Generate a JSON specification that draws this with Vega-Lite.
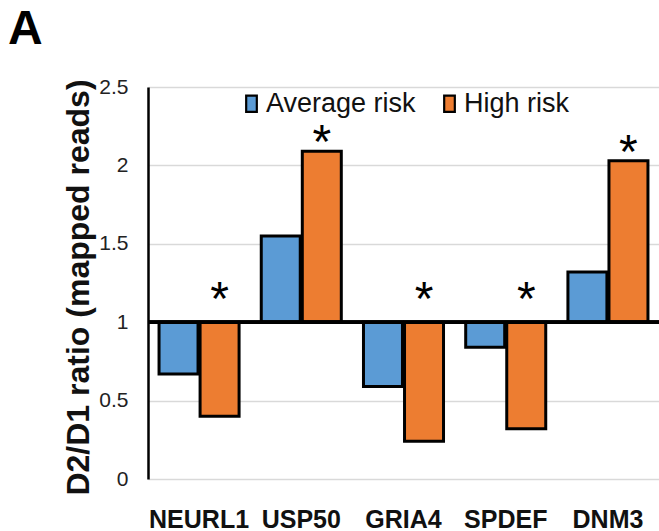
{
  "$schema": "https://vega.github.io/schema/vega-lite/v6.json",
  "width": 511,
  "height": 392,
  "autosize": {"type": "none"},
  "padding": {"left": 148, "top": 87, "right": 0, "bottom": 52},
  "background": "white",
  "title": {
    "text": "A",
    "anchor": "start",
    "frame": "group",
    "dx": -140,
    "offset": 22,
    "font": "Liberation Sans",
    "fontSize": 48,
    "fontWeight": "bold",
    "color": "black"
  },
  "config": {
    "view": {"stroke": null},
    "font": "Liberation Sans"
  },
  "data": {
    "values": [
      {"gene": "NEURL1", "group": "Average risk", "value": 0.67, "sig": ""},
      {"gene": "NEURL1", "group": "High risk", "value": 0.40, "sig": "*"},
      {"gene": "USP50", "group": "Average risk", "value": 1.55, "sig": ""},
      {"gene": "USP50", "group": "High risk", "value": 2.09, "sig": "*"},
      {"gene": "GRIA4", "group": "Average risk", "value": 0.59, "sig": ""},
      {"gene": "GRIA4", "group": "High risk", "value": 0.24, "sig": "*"},
      {"gene": "SPDEF", "group": "Average risk", "value": 0.84, "sig": ""},
      {"gene": "SPDEF", "group": "High risk", "value": 0.32, "sig": "*"},
      {"gene": "DNM3", "group": "Average risk", "value": 1.32, "sig": ""},
      {"gene": "DNM3", "group": "High risk", "value": 2.03, "sig": "*"}
    ]
  },
  "encoding": {
    "x": {
      "field": "gene",
      "type": "nominal",
      "sort": null,
      "scale": {"paddingInner": 0.217, "paddingOuter": 0.108},
      "axis": {
        "title": null,
        "labelAngle": 0,
        "labelFont": "Liberation Sans",
        "labelFontWeight": "bold",
        "labelFontSize": 25,
        "labelColor": "#111111",
        "labelPadding": 28,
        "ticks": false,
        "domain": false
      }
    },
    "xOffset": {
      "field": "group",
      "type": "nominal",
      "sort": ["Average risk", "High risk"],
      "scale": {"paddingInner": 0.05}
    }
  },
  "layer": [
    {
      "mark": {"type": "bar", "stroke": "black", "strokeWidth": 3},
      "encoding": {
        "y": {
          "field": "value",
          "type": "quantitative",
          "scale": {"domain": [0, 2.5], "nice": false, "zero": true},
          "axis": {
            "title": "D2/D1 ratio (mapped reads)",
            "titleFont": "Liberation Sans",
            "titleFontWeight": "bold",
            "titleFontSize": 32,
            "titleColor": "#111111",
            "titleX": -60,
            "titleY": 200,
            "titleAngle": -90,
            "titleAlign": "center",
            "titleBaseline": "alphabetic",
            "values": [0, 0.5, 1, 1.5, 2, 2.5],
            "labelExpr": "'' + datum.value",
            "labelFont": "Liberation Sans",
            "labelFontSize": 21,
            "labelColor": "#222222",
            "labelPadding": 20,
            "ticks": false,
            "domainColor": "black",
            "domainWidth": 2.5,
            "grid": true,
            "gridColor": "#D9D9D9",
            "gridWidth": 1.5
          }
        },
        "y2": {"datum": 1},
        "color": {
          "field": "group",
          "type": "nominal",
          "sort": ["Average risk", "High risk"],
          "scale": {"domain": ["Average risk", "High risk"], "range": ["#5B9BD5", "#ED7D31"]},
          "legend": {
            "title": null,
            "orient": "none",
            "legendX": 90,
            "legendY": 3,
            "direction": "horizontal",
            "columns": 2,
            "columnPadding": 20,
            "labelFont": "Liberation Sans",
            "labelFontSize": 27,
            "labelColor": "#111111",
            "labelOffset": 1,
            "symbolType": "M-0.66,-1H0.66V1H-0.66Z",
            "symbolSize": 260,
            "symbolStrokeColor": "black",
            "symbolStrokeWidth": 2.2,
            "symbolOpacity": 1
          }
        }
      }
    },
    {
      "mark": {"type": "rule", "color": "black", "strokeWidth": 3},
      "encoding": {
        "y": {"datum": 1, "type": "quantitative"},
        "x": {"value": 0},
        "x2": {"value": 511},
        "xOffset": null
      }
    },
    {
      "transform": [{"filter": "datum.sig == '*' && datum.value >= 1"}],
      "mark": {"type": "text", "font": "Liberation Sans", "fontSize": 48, "baseline": "alphabetic", "dy": 7, "color": "black"},
      "encoding": {
        "y": {"field": "value", "type": "quantitative"},
        "text": {"field": "sig"}
      }
    },
    {
      "transform": [{"filter": "datum.sig == '*' && datum.value < 1"}],
      "mark": {"type": "text", "font": "Liberation Sans", "fontSize": 48, "baseline": "alphabetic", "dy": -7, "color": "black"},
      "encoding": {
        "y": {"datum": 1, "type": "quantitative"},
        "text": {"field": "sig"}
      }
    }
  ]
}
